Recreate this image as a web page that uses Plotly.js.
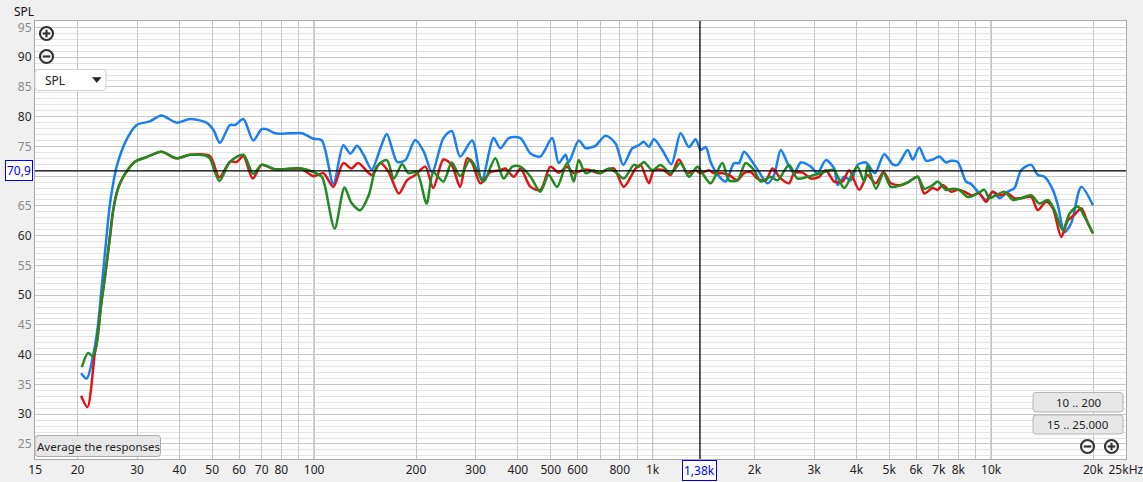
<!DOCTYPE html>
<html>
<head>
<meta charset="utf-8">
<script src="https://cdn.plot.ly/plotly-3.0.1.min.js"></script>
<style>
  html, body { margin: 0; padding: 0; background: #f0f0f0; }
  #chart { width: 1143px; height: 482px; }
</style>
</head>
<body>
<div id="chart"></div>
<script>
// ---------------- DATA ----------------
const freqBlue = [20.5,21.3,22.2,23.0,23.5,24.1,24.9,25.5,26.1,27.9,29.9,32.7,35.4,39.2,43.0,48.1,50.4,52.7,56.4,58.4,61.8,66.1,70.0,72.5,76.7,84.9,92.0,99.5,105.4,114,122,128,134,140,148,157,164,176,186,199,211,223,241,255,270,293,313,339,355,376,407,436,466,505,528,553,565,605,634,655,678,726,777,819,871,911,942,975,1009,1068,1136,1210,1280,1340,1387,1435,1484,1554,1644,1740,1800,1862,1972,2063,2184,2285,2391,2503,2618,2740,2934,3070,3249,3438,3519,3681,3852,4032,4266,4536,4833,5118,5295,5668,5865,6135,6421,6721,7030,7359,7613,7968,8432,8725,9132,9663,10114,10580,11200,11720,12265,13130,13740,14375,15220,15750,16470,17240,18460,19990];
const splBlue  = [36.9,36.0,39.6,45.0,50.5,57.0,65.0,68.8,71.6,76.1,78.6,79.2,80.2,79.0,79.6,79.0,77.8,75.6,78.6,78.6,79.6,76.0,77.9,77.9,77.2,77.2,77.2,76.3,76.0,68.7,75.2,73.8,75.1,73.6,71.1,74.7,77.1,72.4,72.7,76.1,74.1,70.6,76.4,77.6,73.3,76.0,69.3,76.4,74.7,76.4,76.4,73.8,73.3,76.4,72.2,73.6,72.3,76.0,74.7,74.8,75.1,76.8,75.5,71.9,74.7,75.2,75.8,74.9,76.2,74.4,72.0,77.2,74.9,76.2,74.4,74.9,72.4,70.3,69.1,72.2,72.2,74.1,72.4,70.7,68.8,70.2,74.4,72.2,70.5,72.3,71.6,70.5,72.7,71.3,68.5,69.9,69.3,71.9,72.3,70.5,73.7,72.0,71.9,74.4,72.8,74.8,72.6,72.8,73.3,72.3,72.6,72.4,69.1,68.7,67.4,66.0,67.4,66.3,67.4,68.0,71.0,71.9,70.2,69.9,67.7,65.1,60.6,62.1,68.2,65.1];

const freqRed = [20.5,21.4,22.5,22.8,23.5,24.1,24.9,25.5,26.3,27.3,29.5,32.0,35.4,39.2,43.0,49.2,52.5,56.4,59.1,61.8,65.9,70.0,75.8,84.9,92.0,99.5,106.5,114,122,129,135,148,157,166,178,188,199,213,225,241,255,270,283,293,310,332,355,367,389,407,436,466,499,528,559,585,626,655,694,726,768,822,891,921,975,1009,1080,1130,1196,1266,1340,1387,1467,1518,1607,1681,1780,1862,1949,2040,2159,2260,2391,2530,2618,2772,2934,3104,3249,3438,3641,3808,4077,4316,4415,4567,4813,5059,5415,5730,6068,6347,6721,6953,7194,7613,7968,8335,8725,9232,9663,10114,10580,11200,11720,12265,13130,13740,14540,15220,16110,16860,17630,18460,19320,19990];
const splRed  = [33.1,31.2,40.2,41.9,48.5,53.0,59.5,64.3,67.8,69.9,72.4,73.2,74.1,73.0,73.6,73.4,69.8,72.4,72.4,73.4,69.6,71.9,71.2,71.2,71.2,70.0,70.5,68.2,72.2,71.3,72.2,70.2,72.2,70.7,67.1,69.3,70.2,71.6,68.0,72.8,71.9,68.2,73.0,72.2,68.8,70.7,71.0,71.3,69.9,71.3,68.2,67.7,71.6,70.6,71.6,70.5,71.1,71.0,70.5,71.0,71.3,68.2,71.3,71.9,68.8,71.0,71.0,70.2,72.8,70.5,71.0,70.5,71.0,70.5,70.5,70.2,69.3,70.5,70.7,69.6,69.3,71.3,69.6,68.8,70.5,70.6,69.6,69.9,71.0,69.1,69.1,71.0,67.7,70.2,69.6,68.8,70.7,68.8,68.5,69.1,69.9,67.1,68.0,67.7,68.5,67.4,67.7,67.4,66.8,67.1,65.7,67.4,66.8,67.1,66.3,66.3,66.5,64.3,65.7,64.6,59.8,62.6,63.5,64.6,62.1,60.4];

const freqGreen = [20.6,21.5,22.2,22.8,23.5,24.1,24.9,25.5,26.3,27.3,29.5,32.0,35.4,39.2,43.0,48.1,49.2,52.5,56.4,61.8,66.1,70.0,77.6,84.9,92.0,99.5,105.4,107.8,115,123,129,137,145,153,164,172,182,190,201,215,225,241,255,270,289,303,317,343,363,385,407,436,466,493,522,559,585,605,634,670,702,743,777,822,880,911,942,998,1056,1130,1210,1280,1356,1403,1484,1607,1681,1780,1884,1994,2087,2234,2338,2530,2679,2868,3000,3140,3323,3438,3681,3897,4032,4217,4316,4567,4813,5059,5415,5730,6068,6347,6721,6953,7359,7701,8056,8530,9132,9552,9883,10340,10945,11590,12265,13130,13890,14710,15390,16290,17040,18040,18880,19990];
const splGreen  = [37.9,40.3,39.7,41.9,48.5,53.0,59.5,64.3,67.8,69.9,72.4,73.2,74.1,73.0,73.6,73.4,73.0,69.2,72.4,73.6,70.4,71.9,71.1,71.3,71.3,70.7,69.9,68.2,61.2,68.1,65.5,64.3,66.8,71.6,72.7,69.6,72.0,70.5,70.7,65.4,70.6,69.1,72.3,70.0,72.8,71.0,69.1,73.0,69.6,71.6,71.6,69.9,67.4,70.2,68.2,72.2,69.1,72.7,70.5,71.0,70.5,71.3,70.7,69.6,71.9,71.6,72.4,71.0,71.9,70.5,72.2,69.9,71.6,70.5,68.8,72.2,69.3,69.3,72.2,71.0,69.1,69.9,69.3,71.9,69.6,69.9,70.2,70.5,71.0,71.0,68.0,70.5,71.6,69.1,71.8,67.9,70.5,68.2,68.5,69.1,69.9,67.9,68.5,69.1,67.7,67.9,67.7,66.5,67.1,67.7,66.3,66.8,67.4,66.0,66.3,66.8,65.4,66.0,64.3,60.9,63.7,64.9,63.2,60.4];

const cursorFreq = 1380;
const cursorSPL = 70.9;
const cursorFreqLabel = "1,38k";
const cursorSPLLabel = "70,9";

const xGridVals  = [15,20,30,40,50,60,70,80,90,100,200,300,400,500,600,700,800,900,1000,2000,3000,4000,5000,6000,7000,8000,9000,10000,20000,25000];
const xGridText  = ["15","20","30","40","50","60","70","80","","100","200","300","400","500","600","","800","","1k","2k","3k","4k","5k","6k","7k","8k","","10k","20k","25kHz"];
const decadeLines = [100,1000,10000];
const yTickVals = [25,30,35,40,45,50,55,60,65,70,75,80,85,90,95];
const yHiddenTick = 70; // covered by the cursor value box in the reference

// ---------------- LAYOUT HELPERS ----------------
const W = 1143, H = 482;
const PL = 35, PR = 1126, PT = 21, PB = 459;
const px = x => (x - PL) / (PR - PL);
const py = y => (PB - y) / (PB - PT);

function rrect(x0, y0, x1, y1, r, fill, line) {
  const p = (x, y) => px(x).toFixed(5) + ',' + py(y).toFixed(5);
  const d = 'M' + p(x0 + r, y0) + ' L' + p(x1 - r, y0) + ' Q' + p(x1, y0) + ' ' + p(x1, y0 + r) +
    ' L' + p(x1, y1 - r) + ' Q' + p(x1, y1) + ' ' + p(x1 - r, y1) +
    ' L' + p(x0 + r, y1) + ' Q' + p(x0, y1) + ' ' + p(x0, y1 - r) +
    ' L' + p(x0, y0 + r) + ' Q' + p(x0, y0) + ' ' + p(x0 + r, y0) + ' Z';
  return {type: 'path', xref: 'paper', yref: 'paper', path: d, fillcolor: fill,
          line: {color: line, width: 1}, layer: 'above'};
}
function circleIcon(cx, cy, plus) {
  const r = 6.5;
  const out = [{type: 'circle', xref: 'paper', yref: 'paper', x0: px(cx - r), x1: px(cx + r),
      y0: py(cy + r), y1: py(cy - r), fillcolor: '#ffffff', line: {color: '#333333', width: 2.2}, layer: 'above'},
    {type: 'line', xref: 'paper', yref: 'paper', x0: px(cx - 3.8), x1: px(cx + 3.8), y0: py(cy), y1: py(cy),
      line: {color: '#333333', width: 2.2}, layer: 'above'}];
  if (plus) out.push({type: 'line', xref: 'paper', yref: 'paper', x0: px(cx), x1: px(cx), y0: py(cy - 3.8), y1: py(cy + 3.8),
      line: {color: '#333333', width: 2.2}, layer: 'above'});
  return out;
}

const FONT = 'Noto Sans, DejaVu Sans, sans-serif';

const traces = [
  {x: freqBlue, y: splBlue, color: '#1a7ff0'},
  {x: freqRed, y: splRed, color: '#e01414'},
  {x: freqGreen, y: splGreen, color: '#218a21'}
].map(s => ({
  x: s.x, y: s.y, type: 'scatter', mode: 'lines', hoverinfo: 'skip',
  line: {color: s.color, width: 2.5, shape: 'spline', smoothing: 0.8}
}));

const shapes = [];
decadeLines.forEach(f => shapes.push({type: 'line', xref: 'x', yref: 'paper', x0: f, x1: f, y0: 0, y1: 1,
  line: {color: '#8a8a8a', width: 1}, layer: 'between'}));
// cursor crosshair
shapes.push({type: 'line', xref: 'paper', yref: 'y', x0: 0, x1: 1, y0: cursorSPL, y1: cursorSPL,
  line: {color: '#000000', width: 1.3}, layer: 'above'});
shapes.push({type: 'line', xref: 'x', yref: 'paper', x0: cursorFreq, x1: cursorFreq, y0: 0, y1: 1,
  line: {color: '#000000', width: 1.3}, layer: 'above'});
// SPL dropdown
shapes.push(rrect(35, 69.5, 106, 90.5, 3, '#ffffff', '#cfcfcf'));
shapes.push({type: 'path', xref: 'paper', yref: 'paper',
  path: 'M' + px(92.5) + ',' + py(77.5) + ' L' + px(101) + ',' + py(77.5) + ' L' + px(96.75) + ',' + py(82.5) + ' Z',
  fillcolor: '#222222', line: {color: '#222222', width: 0.5}, layer: 'above'});
// buttons
shapes.push(rrect(35, 435.5, 160.5, 456.5, 3, '#e7e7e7', '#adadad'));
shapes.push(rrect(1033, 392.5, 1123, 412, 3, '#e7e7e7', '#b5b5b5'));
shapes.push(rrect(1033, 415, 1123, 434, 3, '#e7e7e7', '#b5b5b5'));
// zoom icons
circleIcon(46.5, 33.5, true).forEach(s => shapes.push(s));
circleIcon(46.5, 56.5, false).forEach(s => shapes.push(s));
circleIcon(1087.5, 446.5, false).forEach(s => shapes.push(s));
circleIcon(1111.5, 446.5, true).forEach(s => shapes.push(s));

const annFont = {family: FONT, size: 12, color: '#1e1e1e'};
const btnFont = {family: FONT, size: 11.5, color: '#1e1e1e'};
const annotations = [
  {xref: 'paper', yref: 'paper', x: px(12), y: py(11), xanchor: 'left', yanchor: 'middle', text: 'SPL',
    showarrow: false, font: {family: FONT, size: 12, color: '#111'}},
  {xref: 'paper', yref: 'paper', x: px(43), y: py(80), xanchor: 'left', yanchor: 'middle', text: 'SPL',
    showarrow: false, font: annFont},
  {xref: 'paper', yref: 'paper', x: px(98), y: py(446.5), xanchor: 'center', yanchor: 'middle', text: 'Average the responses',
    showarrow: false, font: btnFont},
  {xref: 'paper', yref: 'paper', x: px(1078), y: py(402.5), xanchor: 'center', yanchor: 'middle', text: '10 .. 200',
    showarrow: false, font: btnFont},
  {xref: 'paper', yref: 'paper', x: px(1078), y: py(424.5), xanchor: 'center', yanchor: 'middle', text: '15 .. 25.000',
    showarrow: false, font: btnFont},
  {xref: 'paper', yref: 'y', x: px(18.5), y: cursorSPL, xanchor: 'center', yanchor: 'middle', text: cursorSPLLabel,
    showarrow: false, bgcolor: '#ffffff', bordercolor: '#0000ff', borderwidth: 1, borderpad: 1,
    font: {family: FONT, size: 12, color: '#0000ff'}},
  {xref: 'x', yref: 'paper', x: Math.log10(cursorFreq), y: py(470.5), xanchor: 'center', yanchor: 'middle', text: cursorFreqLabel,
    showarrow: false, bgcolor: '#ffffff', bordercolor: '#0000ff', borderwidth: 1, borderpad: 1,
    font: {family: FONT, size: 12, color: '#0000ff'}}
];

const yTickText = yTickVals.map(v => v === yHiddenTick ? '' :
  (v % 10 === 0 ? '<span style="color:#2a2a2a">' + v + '</span>'
                : '<span style="color:#8a8a8a">' + v + '</span>'));

const layout = {
  width: W, height: H,
  margin: {l: PL, r: W - PR, t: PT, b: H - PB, pad: 0},
  paper_bgcolor: '#f0f0f0',
  plot_bgcolor: '#ffffff',
  showlegend: false,
  hovermode: false,
  font: {family: FONT, size: 12, color: '#222'},
  xaxis: {
    type: 'log', range: [Math.log10(14.98), Math.log10(25030)], autorange: false,
    tickmode: 'array', tickvals: xGridVals, ticktext: xGridText,
    showgrid: true, gridcolor: '#c6c6c6', gridwidth: 1,
    zeroline: false, ticks: '', showline: true, linecolor: '#a8a8a8', linewidth: 1, mirror: true,
    tickfont: {family: FONT, size: 12, color: '#222'}, tickangle: 0, fixedrange: true,
    ticklabeloverflow: 'allow'
  },
  yaxis: {
    range: [22.47, 96.08], autorange: false,
    tickmode: 'array', tickvals: yTickVals, ticktext: yTickText,
    showgrid: true, gridcolor: '#c6c6c6', gridwidth: 1,
    minor: {dtick: 1, showgrid: true, gridcolor: '#e3e3e3', gridwidth: 1, ticks: ''},
    zeroline: false, ticks: '', showline: true, linecolor: '#a8a8a8', linewidth: 1, mirror: true,
    tickfont: {family: FONT, size: 12}, fixedrange: true
  },
  shapes: shapes,
  annotations: annotations
};

Plotly.newPlot('chart', traces, layout, {displayModeBar: false, staticPlot: true});
</script>
</body>
</html>
